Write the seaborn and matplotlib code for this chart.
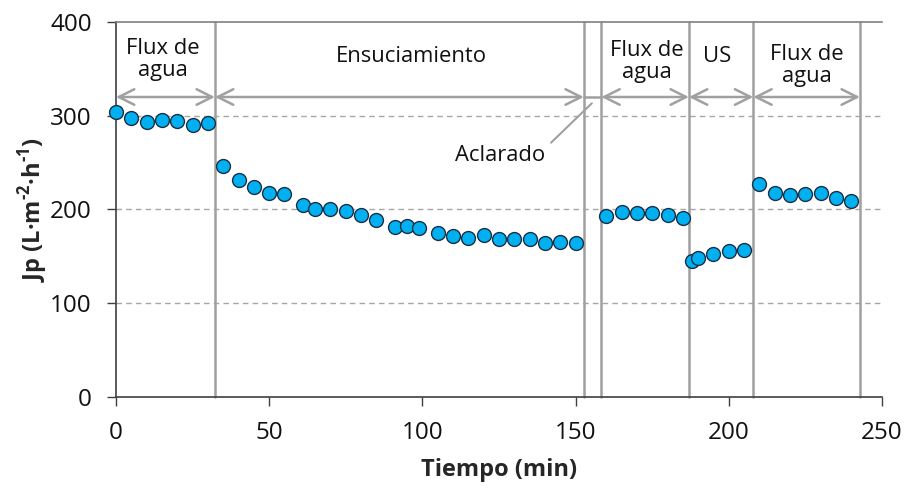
import matplotlib
matplotlib.use("Agg")
import matplotlib.pyplot as plt
import seaborn as sns
import pandas as pd

# Permeate flux over the run
tiempo = [0, 5, 10, 15, 20, 25, 30,
          35, 40, 45, 50, 55, 61, 65, 70, 75, 80, 85, 91, 95, 99, 105, 110,
          115, 120, 125, 130, 135, 140, 145, 150,
          160, 165, 170, 175, 180, 185,
          188, 190, 195, 200, 205,
          210, 215, 220, 225, 230, 235, 240]
jp = [304, 298, 293, 295, 294, 290, 292,
      246, 232, 224, 218, 216, 205, 200, 200, 198, 194, 189, 181, 182, 180, 175, 172,
      170, 173, 169, 168, 169, 164, 165, 164,
      193, 197, 196, 196, 194, 191,
      145, 148, 152, 156, 157,
      227, 218, 215, 217, 218, 212, 209]

# Stage boundaries (min) and stage labels
limites = [0, 32.3, 152.7, 158.4, 187.0, 208.0, 242.8]
etapas = ["Flux de\nagua", "Ensuciamiento", None, "Flux de\nagua", "US", "Flux de\nagua"]
etiqueta_x = [15.3, 96.3, None, 173.2, 196.2, 225.4]
etiqueta_y = [360, 363, None, 358, 363, 354]

x_ticks = [0, 50, 100, 150, 200, 250]
y_ticks = [0, 100, 200, 300, 400]

sns.set_style("white")
plt.rcParams["font.family"] = ["Open Sans", "DejaVu Sans"]
plt.rcParams["mathtext.fontset"] = "custom"
plt.rcParams["mathtext.rm"] = "Open Sans:bold"
plt.rcParams["mathtext.bf"] = "Open Sans:bold"

df = pd.DataFrame({"Tiempo": tiempo, "Jp": jp})

fig = plt.figure(figsize=(9.06, 4.88), dpi=100)
ax = fig.add_axes([0.128, 0.1865, 0.8455, 0.7684])

gris = "#A0A0A0"
for yv in [100, 200, 300]:
    ax.axhline(yv, color="#A6A6A6", lw=1, ls=(0, (4, 3)), zorder=0)

for xv in limites[1:]:
    ax.plot([xv, xv], [0, 400], color=gris, lw=1.8, zorder=1, clip_on=False)

# Stage arrows
y_flecha = 320
for i in range(len(limites) - 1):
    a, b = limites[i], limites[i + 1]
    if etapas[i] is None:
        ax.plot([a, b], [y_flecha, y_flecha], color=gris, lw=1.8, zorder=1)
        continue
    ax.annotate("", xy=(b, y_flecha), xytext=(a, y_flecha),
                arrowprops=dict(arrowstyle="<->", color=gris, lw=1.8,
                                mutation_scale=28, shrinkA=0, shrinkB=0),
                zorder=1)
    ax.text(etiqueta_x[i], etiqueta_y[i], etapas[i], ha="center", va="center",
            fontsize=15.8, color="#111111", linespacing=1.05)

# Rinse label with leader line
ax.plot([142.0, 155.3], [271.3, 313.3], color=gris, lw=1.5, zorder=1)
ax.text(125.3, 258, "Aclarado", ha="center", va="center", fontsize=15.8,
        color="#111111")

sns.scatterplot(data=df, x="Tiempo", y="Jp", ax=ax, s=100, color="#00B0F0",
                edgecolor="#1B2F45", linewidth=1.0, zorder=3, clip_on=False)

ax.set_xlim(0, 250)
ax.set_ylim(0, 400)
ax.set_xticks(x_ticks)
ax.set_yticks(y_ticks)
ax.tick_params(axis="both", direction="out", length=6.5, width=1,
               color="#404040", labelsize=17.5, pad=11, labelcolor="#111111")
ax.tick_params(axis="y", left=True)
ax.tick_params(axis="x", bottom=True)

for s in ["left", "bottom"]:
    ax.spines[s].set_color("#404040")
    ax.spines[s].set_linewidth(1.2)
ax.spines["right"].set_visible(False)
ax.spines["top"].set_color("#808080")
ax.spines["top"].set_linewidth(1.2)

ax.set_xlabel("Tiempo (min)", fontsize=17, fontweight="bold", labelpad=9)
ax.set_ylabel(r"Jp (L·m$^{\text{-2}}$·h$^{\text{-1}}$)", fontsize=17,
              fontweight="bold", labelpad=0)

fig.savefig("out.png", dpi=100)
